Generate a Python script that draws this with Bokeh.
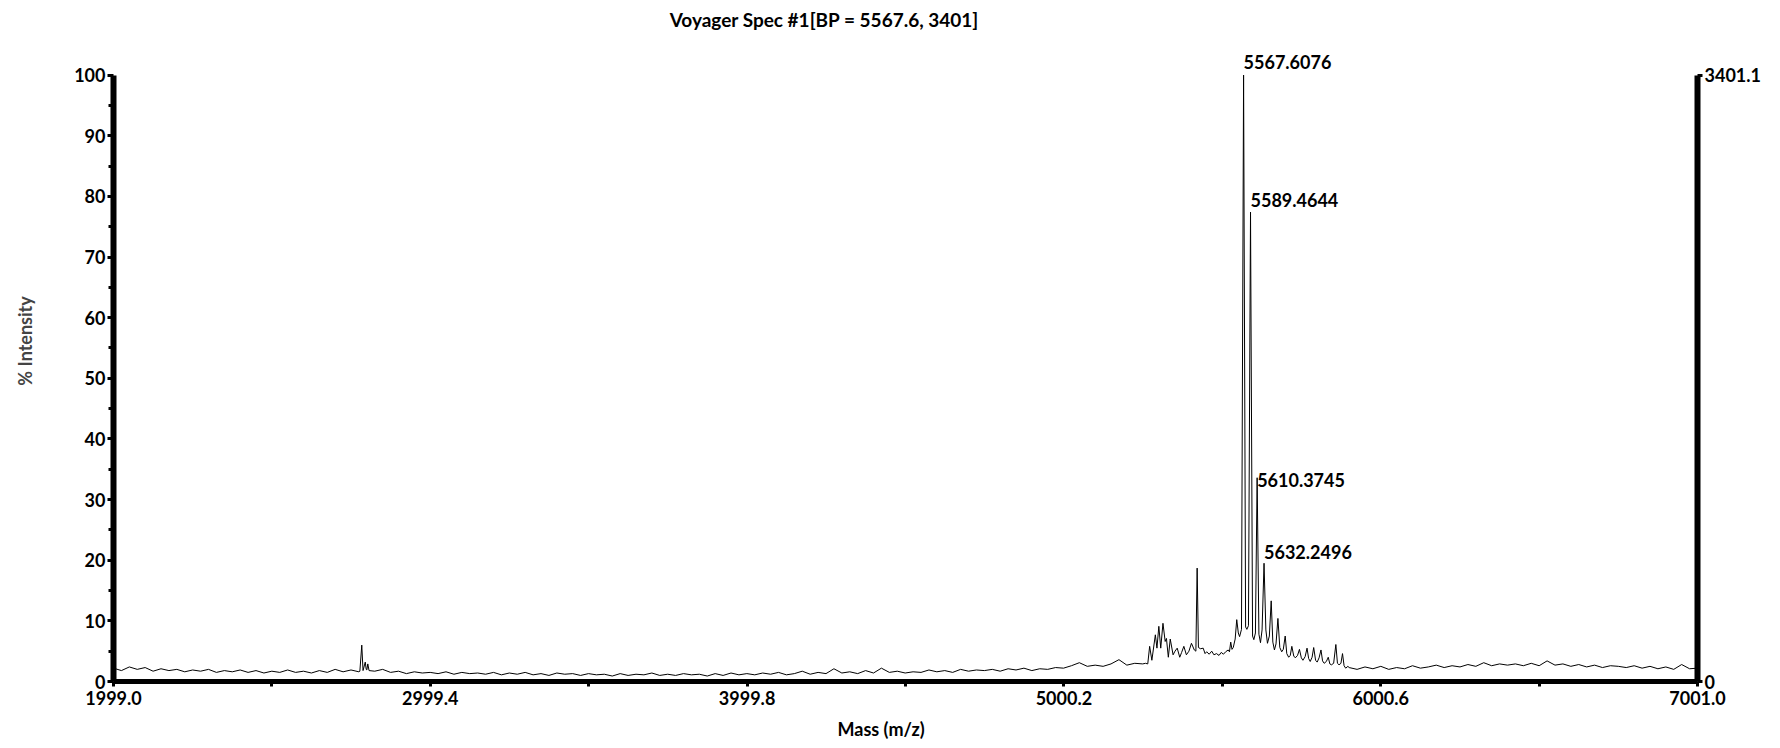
from bokeh.plotting import figure
from bokeh.models import (Range1d, LinearAxis, FixedTicker, Title, ColumnDataSource,
                          CustomJSTickFormatter, PrintfTickFormatter)
from bokeh.embed import file_html
from bokeh.resources import INLINE
from bokeh.core.properties import value

# ---------------- data ----------------
title_text = "Voyager Spec #1[BP = 5567.6, 3401]"
x_label = "Mass (m/z)"
y_label = "% Intensity"
base_peak_counts = 3401.1

x_ticks = [1999.0, 2999.4, 3999.8, 5000.2, 6000.6, 7001.0]
x_minor_ticks = [2499.2, 3499.6, 4500.0, 5500.4, 6500.8]
y_ticks = [0, 10, 20, 30, 40, 50, 60, 70, 80, 90, 100]
y_minor_ticks = [5, 15, 25, 35, 45, 55, 65, 75, 85, 95]

# baseline below the main cluster, sampled every 25 Da from 1999
low_start = 1999.0
low_step = 25.0
low_intensity = [
    2.2, 1.8, 2.4, 2.0, 2.3, 1.7, 2.1, 1.8, 2.0, 1.6,
    1.9, 1.7, 2.0, 1.5, 1.8, 1.6, 1.9, 1.5, 1.8, 1.4,
    1.7, 1.5, 1.9, 1.5, 1.7, 1.4, 1.8, 1.5, 2.0, 1.6,
    1.9, 1.6, 1.9, 1.7, 2.0, 1.5, 1.7, 1.3, 1.6, 1.4,
    1.5, 1.3, 1.6, 1.2, 1.5, 1.3, 1.4, 1.2, 1.5, 1.1,
    1.4, 1.2, 1.5, 1.1, 1.3, 1.0, 1.4, 1.2, 1.3, 1.0,
    1.3, 1.1, 1.2, 0.9, 1.3, 1.0, 1.2, 1.1, 1.4, 1.0,
    1.2, 1.0, 1.3, 1.1, 1.2, 0.9, 1.3, 1.0, 1.4, 1.1,
    1.3, 1.1, 1.4, 1.2, 1.5, 1.1, 1.3, 1.7, 1.2, 1.5,
    1.3, 2.1, 1.4, 1.6, 1.3, 1.8, 1.4, 2.2, 1.5, 1.7,
    1.4, 1.6, 1.5, 1.9, 1.6, 1.8, 1.5, 2.0, 1.7, 1.9,
    1.8, 2.0, 1.7, 2.1, 1.9, 2.2, 1.8, 2.1, 2.0, 2.3,
    2.2, 2.6, 3.1, 2.5, 2.7, 2.5, 2.9, 3.6, 2.7, 3.0, 2.9,
]

# peaks and their surroundings
peak_mass = [
    2777, 2783, 2787, 2794, 2797, 2802, 2806,
    5258, 5265, 5271, 5278, 5289, 5294, 5300, 5306, 5313, 5320, 5324, 5330,
    5336, 5345, 5351, 5358, 5366, 5372, 5379, 5387, 5395, 5403, 5412, 5417,
    5421, 5425, 5432, 5440, 5446, 5451, 5459, 5467, 5474, 5482, 5490, 5497,
    5504, 5511, 5519, 5523, 5527, 5531, 5535, 5541, 5546, 5551, 5555, 5561,
    5567.6, 5574, 5578, 5583, 5589.5, 5596, 5600, 5605, 5610.4, 5616, 5621,
    5626, 5632.2, 5638, 5643, 5649, 5654.8, 5660, 5665, 5670, 5676, 5682,
    5688, 5693, 5699, 5704, 5710, 5715, 5720, 5726, 5731, 5738, 5744, 5750,
    5755, 5762, 5768, 5773, 5778, 5784, 5789, 5795, 5800, 5806, 5812, 5817,
    5822, 5829, 5835, 5840, 5845, 5852, 5859, 5864, 5869, 5875, 5880, 5885,
    5890, 5897,
]
peak_intensity = [
    1.7, 6.0, 1.8, 3.2, 2.0, 2.9, 1.8,
    3.0, 2.9, 5.8, 3.5, 7.7, 5.5, 9.1, 5.5, 9.6, 6.6, 7.1, 4.0,
    7.0, 4.4, 5.0, 5.5, 4.0, 4.8, 5.8, 4.4, 5.0, 6.3, 5.2, 5.0,
    18.7, 5.6, 5.4, 5.5, 4.6, 4.9, 4.5, 5.0, 4.4, 4.6, 4.3, 4.8,
    4.5, 4.9, 5.2, 4.9, 6.5, 5.3, 5.6, 7.0, 10.2, 8.0, 7.4, 8.6,
    100.0, 9.0, 8.6, 9.2, 77.4, 7.5, 6.9, 8.0, 33.6, 7.8, 6.4,
    8.5, 19.5, 8.5, 6.3, 7.5, 13.3, 6.5, 5.2, 6.2, 10.4, 5.6,
    4.9, 5.3, 7.5, 4.6, 4.0, 4.3, 5.8, 4.2, 3.9, 4.3, 5.3, 3.9,
    3.5, 4.1, 5.5, 3.8, 3.3, 4.0, 5.6, 3.5, 3.2, 3.9, 5.2, 3.4,
    3.0, 3.3, 4.0, 2.9, 2.75, 3.0, 6.1, 3.0, 2.75, 3.0, 4.6, 2.6,
    2.2, 2.5,
]

# baseline above the main cluster, sampled every 25 Da from 5901
high_start = 5901.0
high_step = 25.0
high_intensity = [
    2.3, 2.0, 2.4, 2.1, 2.5, 2.0, 2.3, 2.1, 2.6, 2.2,
    2.4, 2.7, 2.3, 2.6, 2.4, 2.8, 2.5, 3.1, 2.6, 2.9,
    2.7, 2.9, 2.6, 3.0, 2.6, 3.4, 2.7, 2.9, 2.5, 2.8,
    2.4, 2.7, 2.3, 2.6, 2.5, 2.3, 2.6, 2.2, 2.5, 2.1,
    2.4, 2.0, 2.8, 2.1, 2.2,
]

annot_mass = [5567.6076, 5589.4644, 5610.3745, 5632.2496]
annot_intensity = [100.0, 77.4, 33.6, 19.5]
annot_text = ["5567.6076", "5589.4644", "5610.3745", "5632.2496"]

# ---------------- build series ----------------
pts = [(low_start + i * low_step, v) for i, v in enumerate(low_intensity)]
pts += list(zip(peak_mass, peak_intensity))
pts += [(high_start + i * high_step, v) for i, v in enumerate(high_intensity)]
pts.sort(key=lambda t: t[0])
mass = [q[0] for q in pts]
intensity = [q[1] for q in pts]

FONT = "Lato"
FS = "18px"

# layout: frame spans the full canvas height above the x axis
y_end = 112.30
p = figure(width=1780, height=748,
           x_range=Range1d(1999.0, 7001.0), y_range=Range1d(0, y_end),
           x_axis_type=None, y_axis_type=None,
           output_backend="svg", toolbar_location=None,
           min_border_left=113, min_border_right=83,
           min_border_top=0, min_border_bottom=67)
p.extra_y_ranges = {"counts": Range1d(0, base_peak_counts * y_end / 100.0)}
p.outline_line_color = None
p.background_fill_color = "white"
p.border_fill_color = "white"


def style_axis(ax, lw):
    ax.axis_line_width = lw
    ax.axis_line_color = "black"
    ax.major_tick_in = 0
    ax.minor_tick_in = 0
    ax.major_tick_line_width = 3
    ax.minor_tick_line_width = 3
    ax.major_tick_line_color = "black"
    ax.minor_tick_line_color = "black"
    ax.major_label_text_font = FONT
    ax.major_label_text_font_style = "bold"
    ax.major_label_text_font_size = FS
    ax.major_label_text_color = "black"


# left axis
yax = LinearAxis(ticker=FixedTicker(ticks=y_ticks, minor_ticks=y_minor_ticks),
                 bounds=(0, 100))
style_axis(yax, 6)
yax.major_tick_out = 6
yax.minor_tick_out = 5
yax.major_label_standoff = 2
yax.axis_label = y_label
yax.axis_label_text_font = FONT
yax.axis_label_text_font_style = "bold"
yax.axis_label_text_font_size = FS
yax.axis_label_standoff = 35
p.add_layout(yax, "left")

# bottom axis
xax = LinearAxis(ticker=FixedTicker(ticks=x_ticks, minor_ticks=x_minor_ticks),
                 formatter=PrintfTickFormatter(format="%.1f"))
style_axis(xax, 5)
xax.major_tick_out = 5
xax.minor_tick_out = 5
xax.major_label_standoff = 4
p.add_layout(xax, "below")

# right axis (absolute counts)
rax = LinearAxis(y_range_name="counts",
                 ticker=FixedTicker(ticks=[0, base_peak_counts], minor_ticks=[]),
                 bounds=(0, base_peak_counts),
                 formatter=CustomJSTickFormatter(code="return tick == 0 ? '0' : tick.toFixed(1);"))
style_axis(rax, 6)
rax.major_tick_out = 5
rax.major_label_standoff = 2
p.add_layout(rax, "right")

# x-axis title below the axis
xl = Title(text=x_label, align="left", offset=724, standoff=16,
           text_font=FONT, text_font_style="bold", text_font_size=FS, text_color="black")
p.add_layout(xl, "below")

# chart title, drawn in the empty band above the axes
p.text(x=[4244.0], y=[109.17], text=[title_text], text_font=value(FONT),
       text_font_size="19px", text_font_style="bold", text_color="black",
       text_align="center", text_baseline="middle")

# spectrum
p.line(mass, intensity, line_color="black", line_width=1)

# peak annotations
src = ColumnDataSource(dict(x=annot_mass, y=annot_intensity, text=annot_text,
                            yo=[-13, -12.5, 2.5, -11]))
p.text(x="x", y="y", text="text", source=src, x_offset=0, y_offset="yo",
       text_font=value(FONT), text_align="left", text_baseline="middle",
       text_font_size=FS, text_font_style="bold", text_color="black")

open("out.html", "w").write(file_html(p, INLINE))
